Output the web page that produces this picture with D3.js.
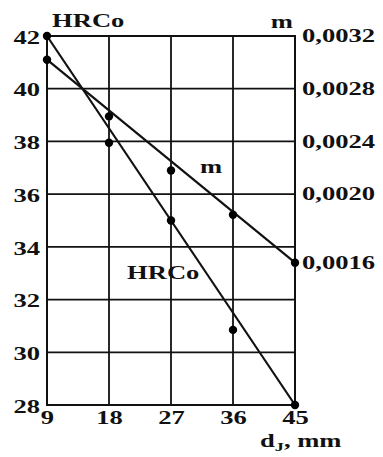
<!DOCTYPE html>
<head>
  <meta charset="utf-8">
  <script src="https://d3js.org/d3.v7.min.js"></script>
  <style>
    body { margin: 0; background: #fff; }
    text { font-family: "Liberation Serif", "Times New Roman", serif; font-weight: bold; fill: #111; }
  </style>
</head>
<body>
<script>
  // data
  var dj = [9, 18, 27, 36, 45];
  var hrco = [42, 37.95, 35.0, 30.85, 28];
  var mVals = [0.00302, 0.00259, 0.00218, 0.00188, 0.0016];

  // fitted straight lines, values at the ends (d = 9 and d = 45)
  var fitEnds = [9, 45];
  var hrcoFit = [42, 28];
  var mFit = [0.00302, 0.0016];

  // tick labels
  var hrcoTicks = [28, 30, 32, 34, 36, 38, 40, 42];
  var mTicks = [0.0016, 0.0020, 0.0024, 0.0028, 0.0032];
  // where each m tick sits on the left (HRCo) scale in the original
  var mTickLevels = [33.4, 36, 38, 40, 42];

  var outerWidth = 383, outerHeight = 457;
  var margin = { top: 36, left: 47, right: 88, bottom: 52 };
  var width = outerWidth - margin.left - margin.right,
    height = outerHeight - margin.top - margin.bottom;

  // the glyphs in the picture are stretched sideways
  var sx = 1.4;
  var fontSize = 19;

  var xScale = d3.scaleLinear().domain([9, 45]).range([0, width]);
  var yScale = d3.scaleLinear().domain([28, 42]).range([height, 0]);
  // right axis is not evenly spaced in the original, so map ticks onto left levels
  var mScale = d3.scaleLinear()
    .domain(mTicks)
    .range(mTickLevels.map(function(v) { return yScale(v); }));

  var svg = d3.select("body").append("svg")
    .attr("width", outerWidth)
    .attr("height", outerHeight);

  var g = svg.append("g")
    .attr("transform", "translate(" + margin.left + "," + margin.top + ")");

  // grid
  g.selectAll(".hgrid")
    .data(hrcoTicks.slice(1, -1))
    .enter().append("line")
    .attr("x1", 0).attr("x2", width)
    .attr("y1", function(d) { return yScale(d); })
    .attr("y2", function(d) { return yScale(d); })
    .attr("stroke", "#111").attr("stroke-width", 1.8);

  g.selectAll(".vgrid")
    .data(dj.slice(1, -1))
    .enter().append("line")
    .attr("x1", function(d) { return xScale(d); })
    .attr("x2", function(d) { return xScale(d); })
    .attr("y1", 0).attr("y2", height)
    .attr("stroke", "#111").attr("stroke-width", 1.8);

  // frame
  g.append("rect")
    .attr("width", width).attr("height", height)
    .attr("fill", "none").attr("stroke", "#111").attr("stroke-width", 2);

  // axes
  var leftAxis = g.append("g")
    .call(d3.axisLeft(yScale).tickValues(hrcoTicks).tickSize(0).tickFormat(d3.format("d")));
  leftAxis.select(".domain").remove();
  leftAxis.selectAll("text")
    .attr("font-size", fontSize)
    .attr("x", -7 / sx)
    .attr("dy", "0.38em")
    .attr("transform", "scale(" + sx + ",1)");

  var rightAxis = g.append("g")
    .attr("transform", "translate(" + width + ",0)")
    .call(d3.axisRight(mScale).tickValues(mTicks).tickSize(0)
      .tickFormat(function(d) { return d.toFixed(4).replace(".", ","); }));
  rightAxis.select(".domain").remove();
  rightAxis.selectAll("text")
    .attr("font-size", fontSize)
    .attr("x", 7 / sx)
    .attr("dy", "0.3em")
    .attr("transform", "scale(" + sx + ",1)");

  var bottomAxis = g.append("g")
    .attr("transform", "translate(0," + height + ")")
    .call(d3.axisBottom(xScale).tickValues(dj).tickSize(0).tickFormat(d3.format("d")));
  bottomAxis.select(".domain").remove();
  bottomAxis.selectAll("text")
    .attr("font-size", fontSize)
    .attr("y", 6)
    .attr("dy", "0.71em")
    .attr("transform", "scale(" + sx + ",1)");

  // fitted lines
  var hrcoLine = d3.line()
    .x(function(d, i) { return xScale(fitEnds[i]); })
    .y(function(d) { return yScale(d); });
  var mLine = d3.line()
    .x(function(d, i) { return xScale(fitEnds[i]); })
    .y(function(d) { return mScale(d); });

  g.append("path").attr("d", hrcoLine(hrcoFit))
    .attr("fill", "none").attr("stroke", "#111").attr("stroke-width", 2.2);
  g.append("path").attr("d", mLine(mFit))
    .attr("fill", "none").attr("stroke", "#111").attr("stroke-width", 2.2);

  // points
  g.selectAll(".hpt")
    .data(hrco)
    .enter().append("circle")
    .attr("cx", function(d, i) { return xScale(dj[i]); })
    .attr("cy", function(d) { return yScale(d); })
    .attr("r", 4.2).attr("fill", "#000");

  g.selectAll(".mpt")
    .data(mVals)
    .enter().append("circle")
    .attr("cx", function(d, i) { return xScale(dj[i]); })
    .attr("cy", function(d) { return mScale(d); })
    .attr("r", 4.2).attr("fill", "#000");

  // free labels, stretched like the axis text
  function addLabel(x, y, txt, anchor) {
    var lg = svg.append("g")
      .attr("transform", "translate(" + x + "," + y + ") scale(" + sx + ",1)");
    return lg.append("text")
      .attr("font-size", fontSize)
      .attr("text-anchor", anchor || "start")
      .text(txt);
  }

  addLabel(52, 27, "HRCo");
  addLabel(293, 28, "m", "end");
  addLabel(200, 173, "m");
  addLabel(127, 279, "HRCo");

  var xTitle = addLabel(260, 447, "d");
  xTitle.append("tspan").attr("font-size", 13).attr("dy", 4).text("J");
  xTitle.append("tspan").attr("dy", -4).text(", mm");
</script>
</body>
